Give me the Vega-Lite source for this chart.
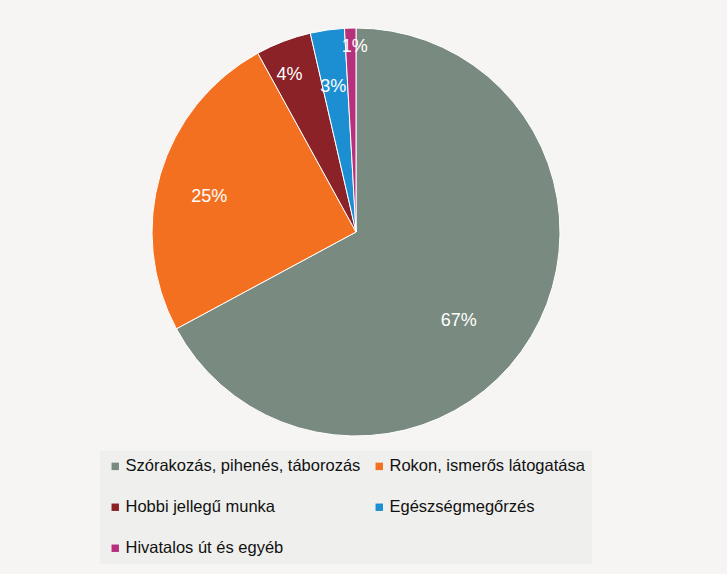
{
  "$schema": "https://vega.github.io/schema/vega-lite/v6.json",
  "autosize": {"type": "none"},
  "width": 408,
  "height": 408,
  "padding": {"left": 152, "top": 28, "right": 167, "bottom": 138},
  "background": "#f6f5f3",
  "data": {
    "values": [
      {"kat": "Szórakozás, pihenés, táborozás", "value": 67.2, "label": "67%", "ord": 1},
      {"kat": "Rokon, ismerős látogatása", "value": 24.9, "label": "25%", "ord": 2},
      {"kat": "Hobbi jellegű munka", "value": 4.4, "label": "4%", "ord": 3},
      {"kat": "Egészségmegőrzés", "value": 2.7, "label": "3%", "ord": 4},
      {"kat": "Hivatalos út és egyéb", "value": 0.9, "label": "1%", "ord": 5}
    ]
  },
  "encoding": {
    "theta": {"field": "value", "type": "quantitative", "stack": true},
    "order": {"field": "ord", "type": "quantitative"}
  },
  "layer": [
    {
      "mark": {"type": "arc", "stroke": "white", "strokeWidth": 1},
      "encoding": {
        "color": {
          "field": "kat",
          "type": "nominal",
          "sort": ["Szórakozás, pihenés, táborozás", "Rokon, ismerős látogatása", "Hobbi jellegű munka", "Egészségmegőrzés", "Hivatalos út és egyéb"],
          "scale": {
            "domain": ["Szórakozás, pihenés, táborozás", "Rokon, ismerős látogatása", "Hobbi jellegű munka", "Egészségmegőrzés", "Hivatalos út és egyéb"],
            "range": ["#798a81", "#f37021", "#8b2228", "#1c8fd2", "#b7307c"]
          },
          "legend": {
            "title": null,
            "orient": "none",
            "legendX": -52,
            "legendY": 423,
            "direction": "horizontal",
            "columns": 2,
            "gridAlign": "all",
            "symbolType": "square",
            "symbolSize": 55,
            "symbolStrokeWidth": 0,
            "symbolOffset": 0,
            "labelFont": "Liberation Sans",
            "labelFontSize": 16.5,
            "labelColor": "#111111",
            "labelOffset": 2,
            "labelLimit": 400,
            "columnPadding": 10,
            "rowPadding": 24,
            "padding": 7,
            "fillColor": "#efefed"
          }
        }
      }
    },
    {
      "mark": {"type": "text", "radius": 150, "dx": -26, "dy": 12, "font": "Liberation Sans", "fontSize": 18, "fill": "white"},
      "encoding": {"text": {"condition": {"test": "datum.ord == 1", "field": "label"}, "value": ""}}
    },
    {
      "mark": {"type": "text", "radius": 150, "dx": -3, "dy": 7, "font": "Liberation Sans", "fontSize": 18, "fill": "white"},
      "encoding": {"text": {"condition": {"test": "datum.ord == 2", "field": "label"}, "value": ""}}
    },
    {
      "mark": {"type": "text", "radius": 170, "dx": -6, "dy": 2, "font": "Liberation Sans", "fontSize": 18, "fill": "white"},
      "encoding": {"text": {"condition": {"test": "datum.ord == 3", "field": "label"}, "value": ""}}
    },
    {
      "mark": {"type": "text", "radius": 147, "dx": -2, "dy": 1, "font": "Liberation Sans", "fontSize": 18, "fill": "white"},
      "encoding": {"text": {"condition": {"test": "datum.ord == 4", "field": "label"}, "value": ""}}
    },
    {
      "mark": {"type": "text", "radius": 185, "dx": 4, "dy": 0, "font": "Liberation Sans", "fontSize": 18, "fill": "white"},
      "encoding": {"text": {"condition": {"test": "datum.ord == 5", "field": "label"}, "value": ""}}
    }
  ],
  "config": {"view": {"stroke": null}}
}
